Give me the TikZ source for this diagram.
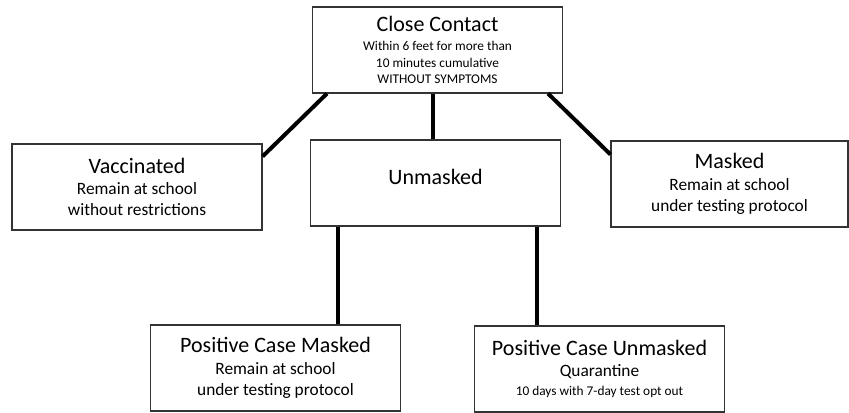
\documentclass[tikz,border=0pt]{standalone}
\usepackage{fontspec}
\setmainfont{Carlito}
\newcommand{\boxtitle}[1]{{\fontsize{16.5}{20}\selectfont #1}}
\newcommand{\boxsmall}{\fontsize{10}{12.5}\selectfont}
\tikzset{
  box/.style={draw=black!80, line width=0.8pt, fill=white, align=center,
    minimum width=187.5pt, minimum height=64.5pt, inner sep=2pt,
    font=\fontsize{13}{16}\selectfont},
  link/.style={line width=3pt},
}
\begin{document}
\begin{tikzpicture}[x=0.75pt,y=-0.75pt]
  \useasboundingbox (0,0) rectangle (849,412);

  % boxes
  \node[box, font=\boxsmall] (close) at (437.5,50)
    {\boxtitle{Close Contact}\\[2pt] Within 6 feet for more than\\ 10 minutes cumulative\\ WITHOUT SYMPTOMS};
  \node[box] (vacc) at (137,187)
    {\boxtitle{Vaccinated}\\ Remain at school\\ without restrictions};
  \node[box] (unmasked) at (435.5,183)
    {\raisebox{-0.75pt}[0pt][0pt]{\boxtitle{Unmasked}}};
  \node[box, minimum width=177.75pt] (masked) at (729.5,184)
    {\boxtitle{Masked}\\ Remain at school\\ under testing protocol};
  \node[box] (pcm) at (275.5,368)
    {\boxtitle{Positive Case Masked}\\ Remain at school\\ under testing protocol};
  \node[box] (pcu) at (599.5,369)
    {\boxtitle{Positive Case Unmasked}\\ Quarantine\\[-2pt] {\boxsmall 10 days with 7-day test opt out}};

  % connectors
  \coordinate (cl) at ([xshift=11.25pt]close.south west);
  \coordinate (cr) at ([xshift=-11.25pt]close.south east);
  \coordinate (cm) at ([xshift=-3.4pt]close.south);
  \coordinate (ml) at ([xshift=-47.25pt]pcm.north east);
  \coordinate (mr) at ([xshift=47.25pt]pcu.north west);
  \draw[link] (cl) -- ([yshift=-9.75pt]vacc.north east);
  \draw[link] (cr) -- ([yshift=-10.5pt]masked.north west);
  \draw[link] (cm) -- (cm |- unmasked.north);
  \draw[link] (ml) -- (ml |- unmasked.south);
  \draw[link] (mr) -- (mr |- unmasked.south);
\end{tikzpicture}
\end{document}
